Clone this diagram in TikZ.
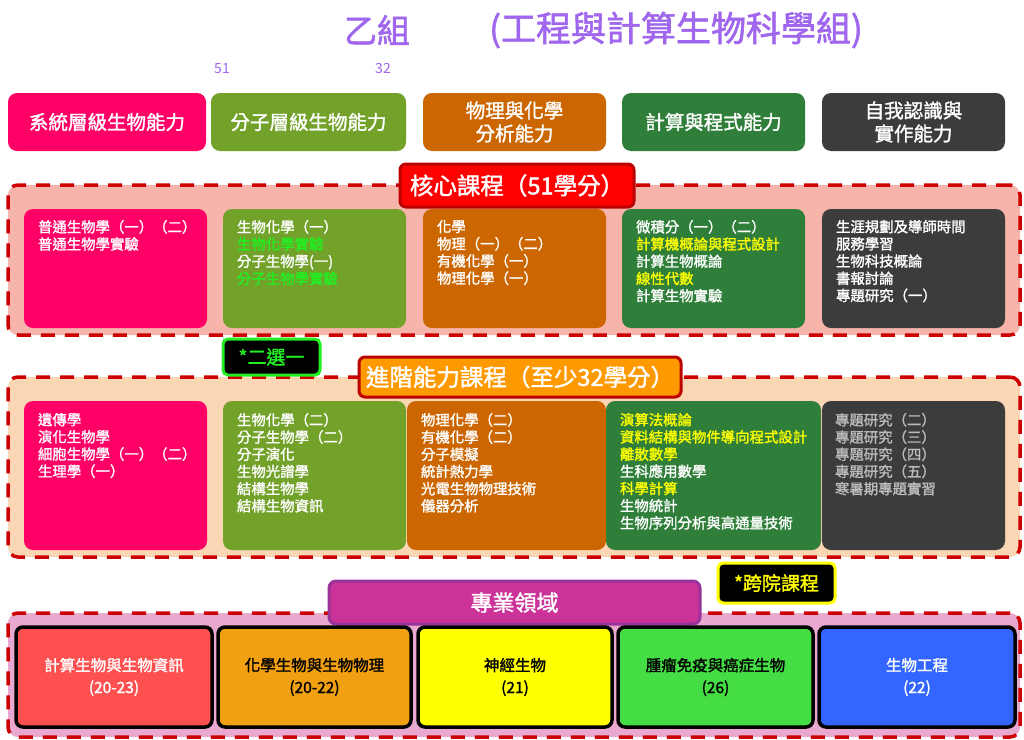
\documentclass[tikz,border=0pt]{standalone}
\usepackage{fontspec}
\setmainfont{Noto Sans CJK TC}[AutoFakeBold=1.6]
\definecolor{cpink}{HTML}{FF0066}
\definecolor{cgreen}{HTML}{72A229}
\definecolor{corange}{HTML}{CC6600}
\definecolor{cdgreen}{HTML}{2F7F3B}
\definecolor{cgrey}{HTML}{3C3C3C}
\definecolor{corefill}{HTML}{F6B4AA}
\definecolor{advfill}{HTML}{FAD6B4}
\definecolor{botfill}{HTML}{E8A8CF}
\definecolor{dashred}{HTML}{CC0000}
\definecolor{lblborder}{HTML}{BB0000}
\definecolor{ttlpurple}{HTML}{A066EE}
\definecolor{lgreen}{HTML}{22EE22}
\definecolor{lyellow}{HTML}{FFFF00}
\definecolor{lgrey}{HTML}{BBBBBB}
\definecolor{magfill}{HTML}{CC3399}
\definecolor{magborder}{HTML}{993399}
\definecolor{bred}{HTML}{FF5050}
\definecolor{borange}{HTML}{F0A010}
\definecolor{byellow}{HTML}{FFFF00}
\definecolor{bgreen}{HTML}{44DD44}
\definecolor{bblue}{HTML}{3366FF}
\definecolor{advlblfill}{HTML}{FF9900}
\begin{document}
\begin{tikzpicture}[x=1pt,y=-1pt,
  cbox/.style={rounded corners=9pt, inner sep=0pt, draw=none, text=white, align=center,
    font=\fontsize{19.5}{23}\selectfont\bfseries},
  region/.style={draw=dashred, line width=3.5pt, dash pattern=on 14pt off 10pt, rounded corners=10pt,
    inner sep=0pt, minimum width=1012pt},
  lbl/.style={draw=lblborder, line width=3pt, rounded corners=6pt, inner sep=0pt, text=white,
    font=\fontsize{23.5}{26}\selectfont\bfseries},
  tag/.style={fill=black, line width=3pt, rounded corners=5pt, inner sep=0pt,
    font=\fontsize{19}{22}\selectfont\bfseries},
  txt/.style={anchor=north west, inner sep=0pt, align=left, text=white,
    font=\fontsize{14.4}{17.2}\selectfont\bfseries},
  fbox/.style={draw=black, line width=3.5pt, rounded corners=7pt, inner sep=0pt, align=center,
    minimum height=100pt, font=\fontsize{15.5}{22}\selectfont\bfseries},
]
\useasboundingbox[fill=white] (0,0) rectangle (1024,739);

% title
\node[text=ttlpurple, font=\fontsize{33}{36}\selectfont\bfseries, inner sep=0pt] (t1) at (377,30) {乙組};
\node[text=ttlpurple, font=\fontsize{35}{38}\selectfont\bfseries, inner sep=0pt] (t2) at (676,30) {(工程與計算生物科學組)};
\node[text=ttlpurple, font=\fontsize{14}{16}\selectfont, inner sep=0pt] (n51) at (222,69) {51};
\node[text=ttlpurple, font=\fontsize{14}{16}\selectfont, inner sep=0pt] (n32) at (383,69) {32};

% top row
\node[cbox, fill=cpink, minimum width=198pt, minimum height=58pt] (h1) at (107,122) {系統層級生物能力};
\node[cbox, fill=cgreen, minimum width=195pt, minimum height=58pt] (h2) at (308.5,122) {分子層級生物能力};
\node[cbox, fill=corange, minimum width=183pt, minimum height=58pt] (h3) at (514.5,122) {物理與化學\\分析能力};
\node[cbox, fill=cdgreen, minimum width=183pt, minimum height=58pt] (h4) at (713.5,122) {計算與程式能力};
\node[cbox, fill=cgrey, minimum width=183pt, minimum height=58pt] (h5) at (913.5,122) {自我認識與\\實作能力};

% core region
\node[region, fill=corefill, minimum height=150pt] (core) at (514,260) {};
\node[lbl, fill=red, minimum width=234pt, minimum height=43pt] (corelbl) at (517,185.5) {核心課程（51學分）};
\node[cbox, fill=cpink, minimum width=183pt, minimum height=119pt] (c1) at (115.5,268.5) {};
\node[cbox, fill=cgreen, minimum width=183pt, minimum height=119pt] (c2) at (314.5,268.5) {};
\node[cbox, fill=corange, minimum width=183pt, minimum height=119pt] (c3) at (514.5,268.5) {};
\node[cbox, fill=cdgreen, minimum width=183pt, minimum height=119pt] (c4) at (713.5,268.5) {};
\node[cbox, fill=cgrey, minimum width=183pt, minimum height=119pt] (c5) at (913.5,268.5) {};
\node[txt] (c1t) at ([shift={(14,11)}]c1.north west) {普通生物學（一）（二）\\普通生物學實驗};
\node[txt] (c2t) at ([shift={(14,11)}]c2.north west) {生物化學（一）\\\textcolor{lgreen}{生物化學實驗}\\分子生物學(一)\\\textcolor{lgreen}{分子生物學實驗}};
\node[txt] (c3t) at ([shift={(14,11)}]c3.north west) {化學\\物理（一）（二）\\有機化學（一）\\物理化學（一）};
\node[txt] (c4t) at ([shift={(14,11)}]c4.north west) {微積分（一）（二）\\\textcolor{lyellow}{計算機概論與程式設計}\\計算生物概論\\\textcolor{lyellow}{線性代數}\\計算生物實驗};
\node[txt] (c5t) at ([shift={(14,11)}]c5.north west) {生涯規劃及導師時間\\服務學習\\生物科技概論\\書報討論\\專題研究（一）};

% advanced region
\node[region, fill=advfill, minimum height=180pt] (adv) at (514,467) {};
\node[tag, draw=lgreen, text=lgreen, minimum width=97pt, minimum height=36pt] (pick) at (271.5,357) {*二選一};
\node[lbl, fill=advlblfill, minimum width=322pt, minimum height=40pt] (advlbl) at (520,377) {進階能力課程（至少32學分）};
\node[cbox, fill=cpink, minimum width=183pt, minimum height=149pt] (a1) at (115.5,475.5) {};
\node[cbox, fill=cgreen, minimum width=183pt, minimum height=149pt] (a2) at (314.5,475.5) {};
\node[cbox, fill=corange, minimum width=199pt, minimum height=149pt] (a3) at (506.5,475.5) {};
\node[cbox, fill=cdgreen, minimum width=215pt, minimum height=149pt] (a4) at (713.5,475.5) {};
\node[cbox, fill=cgrey, minimum width=183pt, minimum height=149pt] (a5) at (913.5,475.5) {};
\node[txt] (a1t) at ([shift={(14,12)}]a1.north west) {遺傳學\\演化生物學\\細胞生物學（一）（二）\\生理學（一）};
\node[txt] (a2t) at ([shift={(14,12)}]a2.north west) {生物化學（二）\\分子生物學（二）\\分子演化\\生物光譜學\\結構生物學\\結構生物資訊};
\node[txt] (a3t) at ([shift={(14,12)}]a3.north west) {物理化學（二）\\有機化學（二）\\分子模擬\\統計熱力學\\光電生物物理技術\\儀器分析};
\node[txt] (a4t) at ([shift={(14,12)}]a4.north west) {\textcolor{lyellow}{演算法概論}\\\textcolor{lyellow}{資料結構與物件導向程式設計}\\\textcolor{lyellow}{離散數學}\\生科應用數學\\\textcolor{lyellow}{科學計算}\\生物統計\\生物序列分析與高通量技術};
\node[txt, text=lgrey] (a5t) at ([shift={(13,12)}]a5.north west) {專題研究（二）\\專題研究（三）\\專題研究（四）\\專題研究（五）\\寒暑期專題實習};

% professional fields
\node[region, fill=botfill, minimum height=124pt] (bot) at (514,675) {};
\node[tag, draw=lyellow, text=lyellow, minimum width=117pt, minimum height=40pt] (cross) at (776.5,583) {*跨院課程};
\node[draw=magborder, line width=3pt, fill=magfill, rounded corners=7pt, inner sep=0pt, text=white,
  font=\fontsize{22}{24}\selectfont\bfseries, minimum width=371pt, minimum height=43pt] (field) at (514.5,602.5) {專業領域};
\node[fbox, fill=bred, text=white, minimum width=196pt] (f1) at (114,677) {計算生物與生物資訊\\(20-23)};
\node[fbox, fill=borange, text=black, minimum width=193pt] (f2) at (314.5,677) {化學生物與生物物理\\(20-22)};
\node[fbox, fill=byellow, text=black, minimum width=194pt] (f3) at (515,677) {神經生物\\(21)};
\node[fbox, fill=bgreen, text=black, minimum width=195pt] (f4) at (715.5,677) {腫瘤免疫與癌症生物\\(26)};
\node[fbox, fill=bblue, text=white, minimum width=196pt] (f5) at (917,677) {生物工程\\(22)};
\end{tikzpicture}
\end{document}
